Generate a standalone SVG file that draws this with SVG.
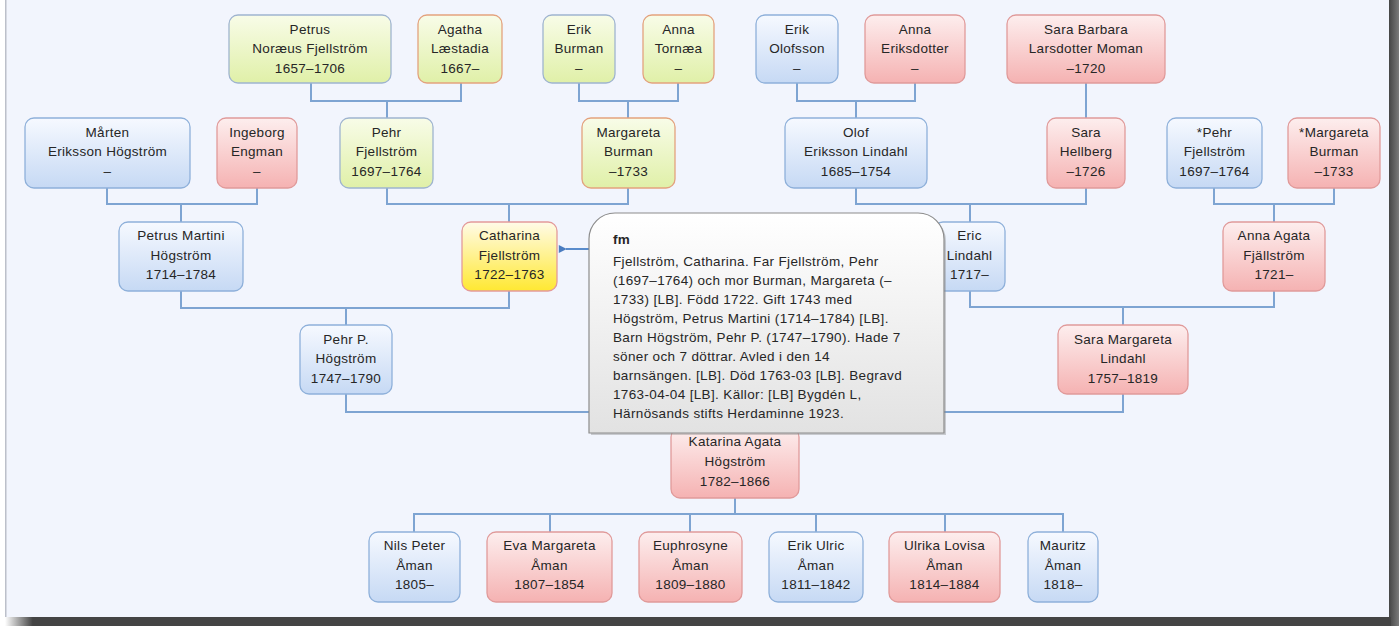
<svg xmlns="http://www.w3.org/2000/svg" width="1399" height="626" viewBox="0 0 1399 626">
<style>
.node rect{stroke-width:1.3}
.blue rect{fill:url(#gBlue);stroke:#8eb0da}
.pink rect{fill:url(#gPink);stroke:#e09a9a}
.greenm rect{fill:url(#gGreen);stroke:#9fb4cf}
.greenf rect{fill:url(#gGreen);stroke:#e3a27e}
.yellow rect{fill:url(#gYellow);stroke:#e39a9a}
text{font-family:"Liberation Sans",Arial,sans-serif;font-size:13.5px;letter-spacing:0.3px;fill:#262626;text-anchor:middle}
.conn path{fill:none;stroke:#7ea4d2;stroke-width:2}
.tip text{text-anchor:start;letter-spacing:0.35px}
</style>
<defs>
<linearGradient id="gBlue" x1="0" y1="0" x2="0" y2="1"><stop offset="0" stop-color="#f6f9ff"/><stop offset="1" stop-color="#c6d9f4"/></linearGradient>
<linearGradient id="gPink" x1="0" y1="0" x2="0" y2="1"><stop offset="0" stop-color="#fdeeee"/><stop offset="1" stop-color="#f5b2b2"/></linearGradient>
<linearGradient id="gGreen" x1="0" y1="0" x2="0" y2="1"><stop offset="0" stop-color="#f8fce8"/><stop offset="1" stop-color="#e0f0a8"/></linearGradient>
<linearGradient id="gYellow" x1="0" y1="0" x2="0" y2="1"><stop offset="0" stop-color="#fffbe8"/><stop offset="1" stop-color="#ffe832"/></linearGradient>
<linearGradient id="gTip" x1="0" y1="0" x2="0" y2="1"><stop offset="0" stop-color="#ffffff"/><stop offset="1" stop-color="#e2e2e2"/></linearGradient>
<linearGradient id="gRight" x1="0" y1="0" x2="1" y2="0"><stop offset="0" stop-color="#454545"/><stop offset="1" stop-color="#7a7a7a"/></linearGradient>
<linearGradient id="gBottom" x1="0" y1="0" x2="1" y2="0"><stop offset="0" stop-color="#ffffff"/><stop offset="0.02" stop-color="#444444"/><stop offset="1" stop-color="#444444"/></linearGradient>
<marker id="arr" viewBox="0 0 10 10" refX="1" refY="5" markerWidth="9" markerHeight="8" markerUnits="userSpaceOnUse" orient="auto-start-reverse"><path d="M0,5 L10,0 L10,10 Z" fill="#4a7cc0"/></marker>
</defs>
<rect width="1399" height="626" fill="#ffffff"/>
<rect x="6" y="0" width="1383" height="617" fill="#f2f5fd"/>
<rect x="5" y="0" width="1.5" height="617" fill="#bcc0ca"/>
<rect x="1389" y="0" width="10" height="626" fill="url(#gRight)"/>
<rect x="5" y="617" width="1386" height="9" fill="url(#gBottom)"/>

<g id="connectors" class="conn">
<path d="M311,83 V101 H461 V83 M387,101 V118"/>
<path d="M579,83 V101 H678 V83 M628,101 V118"/>
<path d="M797,83 V101 H915 V83 M856,101 V118"/>
<path d="M1086,83 V118"/>
<path d="M107,188 V204 H257 V188 M181,204 V222"/>
<path d="M387,188 V204 H628 V188 M509,204 V222"/>
<path d="M856,188 V204 H1086 V188 M970,204 V222"/>
<path d="M1214,188 V204 H1334 V188 M1274,204 V222"/>
<path d="M181,291 V308 H509 V291 M346,308 V325"/>
<path d="M970,291 V307 H1274 V291 M1123,307 V325"/>
<path d="M346,394 V412 H1123 V394 M735,412 V428"/>
<path d="M735,498 V514 M414,532 V514 H1063 V532 M550,514 V532 M690,514 V532 M816,514 V532 M945,514 V532"/>
<path d="M589,249 H566" marker-end="url(#arr)" style="stroke:#5a8ccc"/>
</g>

<g id="n-petrus-noraeus" class="node greenm"><rect x="229" y="15" width="162" height="68" rx="9"/><text><tspan x="310" y="33.5">Petrus</tspan><tspan x="310" y="53">Noræus Fjellström</tspan><tspan x="310" y="72.5">1657–1706</tspan></text></g>
<g id="n-agatha" class="node greenf"><rect x="418" y="15" width="84" height="68" rx="9"/><text><tspan x="460" y="33.5">Agatha</tspan><tspan x="460" y="53">Læstadia</tspan><tspan x="460" y="72.5">1667–</tspan></text></g>
<g id="n-erik-burman" class="node greenm"><rect x="543" y="15" width="72" height="68" rx="9"/><text><tspan x="579" y="33.5">Erik</tspan><tspan x="579" y="53">Burman</tspan><tspan x="579" y="72.5">–</tspan></text></g>
<g id="n-anna-tornaea" class="node greenf"><rect x="643" y="15" width="71" height="68" rx="9"/><text><tspan x="678.5" y="33.5">Anna</tspan><tspan x="678.5" y="53">Tornæa</tspan><tspan x="678.5" y="72.5">–</tspan></text></g>
<g id="n-erik-olofsson" class="node blue"><rect x="756" y="15" width="82" height="68" rx="9"/><text><tspan x="797" y="33.5">Erik</tspan><tspan x="797" y="53">Olofsson</tspan><tspan x="797" y="72.5">–</tspan></text></g>
<g id="n-anna-eriksdotter" class="node pink"><rect x="865" y="15" width="100" height="68" rx="9"/><text><tspan x="915" y="33.5">Anna</tspan><tspan x="915" y="53">Eriksdotter</tspan><tspan x="915" y="72.5">–</tspan></text></g>
<g id="n-sara-barbara" class="node pink"><rect x="1007" y="15" width="158" height="68" rx="9"/><text><tspan x="1086" y="33.5">Sara Barbara</tspan><tspan x="1086" y="53">Larsdotter Moman</tspan><tspan x="1086" y="72.5">–1720</tspan></text></g>

<g id="n-marten" class="node blue"><rect x="25" y="118" width="165" height="70" rx="9"/><text><tspan x="107.5" y="136.5">Mårten</tspan><tspan x="107.5" y="156">Eriksson Högström</tspan><tspan x="107.5" y="175.5">–</tspan></text></g>
<g id="n-ingeborg" class="node pink"><rect x="217" y="118" width="80" height="70" rx="9"/><text><tspan x="257" y="136.5">Ingeborg</tspan><tspan x="257" y="156">Engman</tspan><tspan x="257" y="175.5">–</tspan></text></g>
<g id="n-pehr-fjellstrom" class="node greenm"><rect x="340" y="118" width="93" height="70" rx="9"/><text><tspan x="386.5" y="136.5">Pehr</tspan><tspan x="386.5" y="156">Fjellström</tspan><tspan x="386.5" y="175.5">1697–1764</tspan></text></g>
<g id="n-margareta-burman" class="node greenf"><rect x="582" y="118" width="93" height="70" rx="9"/><text><tspan x="628.5" y="136.5">Margareta</tspan><tspan x="628.5" y="156">Burman</tspan><tspan x="628.5" y="175.5">–1733</tspan></text></g>
<g id="n-olof" class="node blue"><rect x="785" y="118" width="142" height="70" rx="9"/><text><tspan x="856" y="136.5">Olof</tspan><tspan x="856" y="156">Eriksson Lindahl</tspan><tspan x="856" y="175.5">1685–1754</tspan></text></g>
<g id="n-sara-hellberg" class="node pink"><rect x="1047" y="118" width="78" height="70" rx="9"/><text><tspan x="1086" y="136.5">Sara</tspan><tspan x="1086" y="156">Hellberg</tspan><tspan x="1086" y="175.5">–1726</tspan></text></g>
<g id="n-pehr-dup" class="node blue"><rect x="1167" y="118" width="95" height="70" rx="9"/><text><tspan x="1214.5" y="136.5">*Pehr</tspan><tspan x="1214.5" y="156">Fjellström</tspan><tspan x="1214.5" y="175.5">1697–1764</tspan></text></g>
<g id="n-margareta-dup" class="node pink"><rect x="1288" y="118" width="92" height="70" rx="9"/><text><tspan x="1334" y="136.5">*Margareta</tspan><tspan x="1334" y="156">Burman</tspan><tspan x="1334" y="175.5">–1733</tspan></text></g>

<g id="n-petrus-martini" class="node blue"><rect x="119" y="222" width="124" height="69" rx="9"/><text><tspan x="181" y="240">Petrus Martini</tspan><tspan x="181" y="259.5">Högström</tspan><tspan x="181" y="279">1714–1784</tspan></text></g>
<g id="n-catharina" class="node yellow"><rect x="462" y="222" width="95" height="69" rx="9"/><text><tspan x="509.5" y="240">Catharina</tspan><tspan x="509.5" y="259.5">Fjellström</tspan><tspan x="509.5" y="279">1722–1763</tspan></text></g>
<g id="n-eric" class="node blue"><rect x="934" y="222" width="71" height="69" rx="9"/><text><tspan x="969.5" y="240">Eric</tspan><tspan x="969.5" y="259.5">Lindahl</tspan><tspan x="969.5" y="279">1717–</tspan></text></g>
<g id="n-anna-agata" class="node pink"><rect x="1223" y="222" width="102" height="69" rx="9"/><text><tspan x="1274" y="240">Anna Agata</tspan><tspan x="1274" y="259.5">Fjällström</tspan><tspan x="1274" y="279">1721–</tspan></text></g>

<g id="n-pehr-p" class="node blue"><rect x="300" y="325" width="92" height="69" rx="9"/><text><tspan x="346" y="343.5">Pehr P.</tspan><tspan x="346" y="363">Högström</tspan><tspan x="346" y="382.5">1747–1790</tspan></text></g>
<g id="n-sara-margareta" class="node pink"><rect x="1058" y="325" width="130" height="69" rx="9"/><text><tspan x="1123" y="343.5">Sara Margareta</tspan><tspan x="1123" y="363">Lindahl</tspan><tspan x="1123" y="382.5">1757–1819</tspan></text></g>

<g id="n-katarina" class="node pink"><rect x="671" y="428" width="128" height="70" rx="9"/><text><tspan x="735" y="446">Katarina Agata</tspan><tspan x="735" y="466">Högström</tspan><tspan x="735" y="485.5">1782–1866</tspan></text></g>

<g id="n-nils" class="node blue"><rect x="369" y="532" width="91" height="70" rx="9"/><text><tspan x="414.5" y="549.5">Nils Peter</tspan><tspan x="414.5" y="569.5">Åman</tspan><tspan x="414.5" y="589">1805–</tspan></text></g>
<g id="n-eva" class="node pink"><rect x="487" y="532" width="125" height="70" rx="9"/><text><tspan x="549.5" y="549.5">Eva Margareta</tspan><tspan x="549.5" y="569.5">Åman</tspan><tspan x="549.5" y="589">1807–1854</tspan></text></g>
<g id="n-euphrosyne" class="node pink"><rect x="639" y="532" width="103" height="70" rx="9"/><text><tspan x="690.5" y="549.5">Euphrosyne</tspan><tspan x="690.5" y="569.5">Åman</tspan><tspan x="690.5" y="589">1809–1880</tspan></text></g>
<g id="n-erik-ulric" class="node blue"><rect x="769" y="532" width="94" height="70" rx="9"/><text><tspan x="816" y="549.5">Erik Ulric</tspan><tspan x="816" y="569.5">Åman</tspan><tspan x="816" y="589">1811–1842</tspan></text></g>
<g id="n-ulrika" class="node pink"><rect x="889" y="532" width="111" height="70" rx="9"/><text><tspan x="944.5" y="549.5">Ulrika Lovisa</tspan><tspan x="944.5" y="569.5">Åman</tspan><tspan x="944.5" y="589">1814–1884</tspan></text></g>
<g id="n-mauritz" class="node blue"><rect x="1028" y="532" width="70" height="70" rx="9"/><text><tspan x="1063" y="549.5">Mauritz</tspan><tspan x="1063" y="569.5">Åman</tspan><tspan x="1063" y="589">1818–</tspan></text></g>

<g id="tooltip" class="tip">
<path d="M591,435 V241 A26,26 0 0 1 617,215 H920 A26,26 0 0 1 946,241 V435 Z" fill="#8a8a8a" opacity="0.4"/>
<path d="M589,433 V239 A26,26 0 0 1 615,213 H918 A26,26 0 0 1 944,239 V433 Z" fill="url(#gTip)" stroke="#8c8c8c" stroke-width="1.2"/>
<text x="613" y="243.5" style="font-weight:bold">fm</text>
<text x="613" y="265.5">Fjellström, Catharina. Far Fjellström, Pehr</text>
<text x="613" y="284.6">(1697–1764) och mor Burman, Margareta (–</text>
<text x="613" y="303.7">1733) [LB]. Född 1722. Gift 1743 med</text>
<text x="613" y="322.8">Högström, Petrus Martini (1714–1784) [LB].</text>
<text x="613" y="341.9">Barn Högström, Pehr P. (1747–1790). Hade 7</text>
<text x="613" y="361">söner och 7 döttrar. Avled i den 14</text>
<text x="613" y="380.1">barnsängen. [LB]. Död 1763-03 [LB]. Begravd</text>
<text x="613" y="399.2">1763-04-04 [LB]. Källor: [LB] Bygdén L,</text>
<text x="613" y="418.3">Härnösands stifts Herdaminne 1923.</text>
</g>
</svg>
